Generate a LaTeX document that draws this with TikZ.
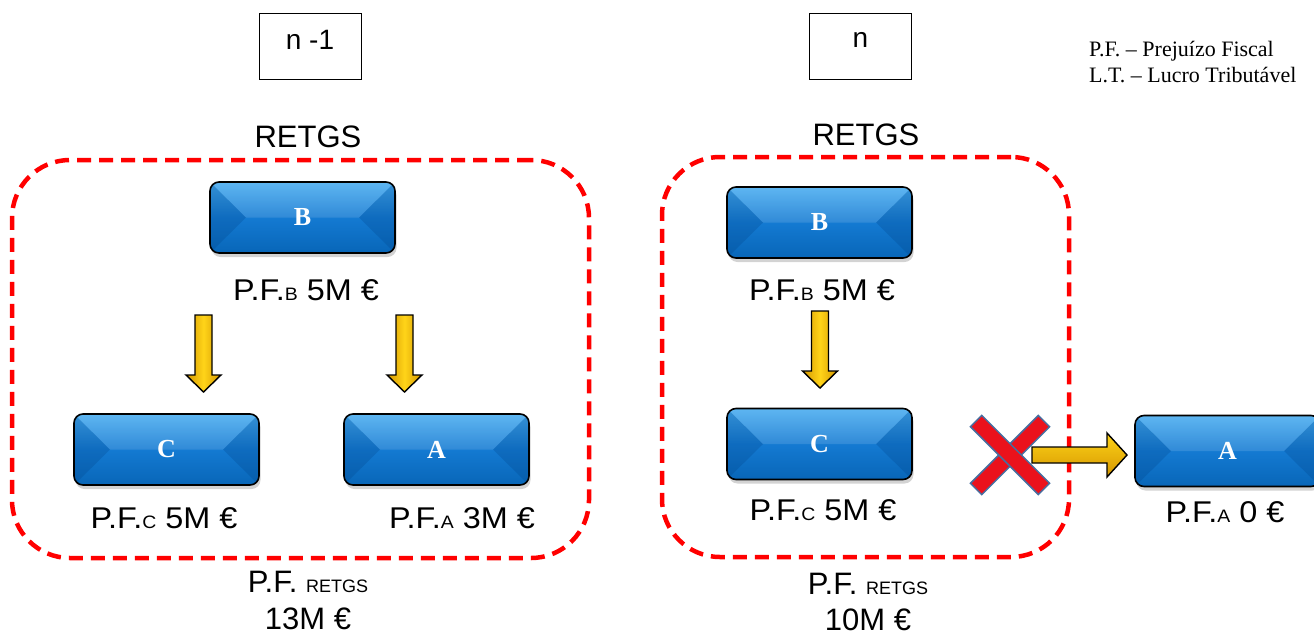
\documentclass[tikz,border=0pt]{standalone}
\usepackage{fontspec}
\setmainfont{Liberation Serif}
\newfontfamily\arial{Liberation Sans}
\newfontfamily\arialwide{Liberation Sans}[FakeStretch=1.08]
\usetikzlibrary{shadows}

\definecolor{boxtop}{RGB}{72,172,240}
\definecolor{boxmid}{RGB}{20,122,210}
\definecolor{boxbot}{RGB}{8,102,184}
\definecolor{boxdark}{RGB}{0,66,135}
\definecolor{goldA}{RGB}{212,150,0}
\definecolor{goldB}{RGB}{255,212,25}
\definecolor{xred}{RGB}{235,18,28}
\definecolor{xedge}{RGB}{70,110,160}
\definecolor{dashred}{RGB}{255,0,0}

\newcommand{\smallcap}{\fontsize{18}{18}\selectfont}

\tikzset{
  entity/.style={rounded corners=9pt, draw=black, line width=1.6pt,
    minimum width=185pt, minimum height=71pt, inner sep=0pt,
    top color=boxtop, bottom color=boxbot, middle color=boxmid,
    text=white, font=\bfseries\fontsize{26}{26}\selectfont,
    drop shadow={opacity=0.35, shadow xshift=1.5pt, shadow yshift=-4pt},
    path picture={
      \fill[sharp corners, boxdark, opacity=0.25]
        (path picture bounding box.north west) -- ([xshift=36pt]path picture bounding box.west)
        -- (path picture bounding box.south west) -- cycle;
      \fill[sharp corners, boxdark, opacity=0.25]
        (path picture bounding box.north east) -- ([xshift=-36pt]path picture bounding box.east)
        -- (path picture bounding box.south east) -- cycle;
      \fill[sharp corners, white, opacity=0.12]
        (path picture bounding box.north west) -- ([xshift=36pt]path picture bounding box.west)
        -- ([xshift=-36pt]path picture bounding box.east) -- (path picture bounding box.north east) -- cycle;
    }},
  lbl/.style={font=\arial\fontsize{31}{31}\selectfont, inner sep=0pt, anchor=base},
  pflbl/.style={font=\arialwide\fontsize{30}{30}\selectfont, inner sep=0pt, anchor=base},
  legend/.style={font=\fontsize{22}{22}\selectfont, inner sep=0pt, anchor=base west},
  period/.style={draw=black, line width=0.8pt, minimum width=102pt, minimum height=66pt,
    inner sep=0pt, text depth=13pt, font=\arial\fontsize{28}{28}\selectfont},
  region/.style={draw=dashred, line width=4.5pt, dash pattern=on 14pt off 8pt,
    rounded corners=58pt, inner sep=0pt},
  blockarrow/.style={draw=black, line width=1.4pt, line join=miter},
  xbar/.style={rectangle, fill=xred, draw=xedge, line width=1.5pt,
    minimum width=96pt, minimum height=16pt, inner sep=0pt},
  downarr/.pic={
    \draw[blockarrow, left color=goldA, right color=goldA, middle color=goldB]
      (-8.5pt,0pt) -- (-8.5pt,-60pt) -- (-17.5pt,-60pt) -- (0pt,-77pt)
      -- (17.5pt,-60pt) -- (8.5pt,-60pt) -- (8.5pt,0pt) -- cycle;
  },
  rightarr/.pic={
    \draw[blockarrow, top color=goldB, bottom color=goldA]
      (0pt,8pt) -- (75pt,8pt) -- (75pt,22pt) -- (95pt,0pt)
      -- (75pt,-22pt) -- (75pt,-8pt) -- (0pt,-8pt) -- cycle;
  },
}

\begin{document}
\begin{tikzpicture}[x=1pt, y=-1pt]
\useasboundingbox (0,0) rectangle (1314,635);

% periods
\node[period] (pprev) at (310,46) {n -1};
\node[period] (pcur) at (860.5,46) {n};

% legend
\node[legend] (leg1) at (1089,56) {P.F. – Prejuízo Fiscal};
\node[legend] (leg2) at (1089,82) {L.T. – Lucro Tributável};

% ---------- year n-1 ----------
\node[lbl] (retgsL) at (308,147) {RETGS};
\node[region, minimum width=577pt, minimum height=398pt] (grpL) at (300.5,359) {};

\node[entity] (bL) at (302.5,217.5) {B};
\node[pflbl] (pfbL) at (306,300) {P.F.{\smallcap B} 5M €};

\node[entity] (cL) at (166.5,449.5) {C};
\node[pflbl] (pfcL) at (164,528) {P.F.{\smallcap C} 5M €};

\node[entity] (aL) at (436.5,449.5) {A};
\node[pflbl] (pfaL) at (462,528) {P.F.{\smallcap A} 3M €};

\pic (dl1) at (203.5,315) {downarr};
\pic (dl2) at (404.5,315) {downarr};

\node[lbl] (totL1) at (308,592) {P.F. {\smallcap RETGS}};
\node[lbl] (totL2) at (308,629) {13M €};

% ---------- year n ----------
\node[lbl] (retgsR) at (866,145) {RETGS};
\node[region, minimum width=407pt, minimum height=400pt] (grpR) at (865.5,357) {};

\node[entity] (bR) at (819.5,222.5) {B};
\node[pflbl] (pfbR) at (822,300) {P.F.{\smallcap B} 5M €};

\node[entity] (cR) at (819.5,444) {C};
\node[pflbl] (pfcR) at (823,520) {P.F.{\smallcap C} 5M €};

\pic (dr1) at (820,311) {downarr};

\node[xbar, rotate=45] (xa) at (1010,455) {};
\node[xbar, rotate=-45] (xb) at (1010,455) {};
\pic (ra) at (1032,455) {rightarr};

\node[entity] (aR) at (1227.5,451) {A};
\node[pflbl] (pfaR) at (1225,522) {P.F.{\smallcap A} 0 €};

\node[lbl] (totR1) at (868,594) {P.F. {\smallcap RETGS}};
\node[lbl] (totR2) at (868,630) {10M €};
\end{tikzpicture}
\end{document}
